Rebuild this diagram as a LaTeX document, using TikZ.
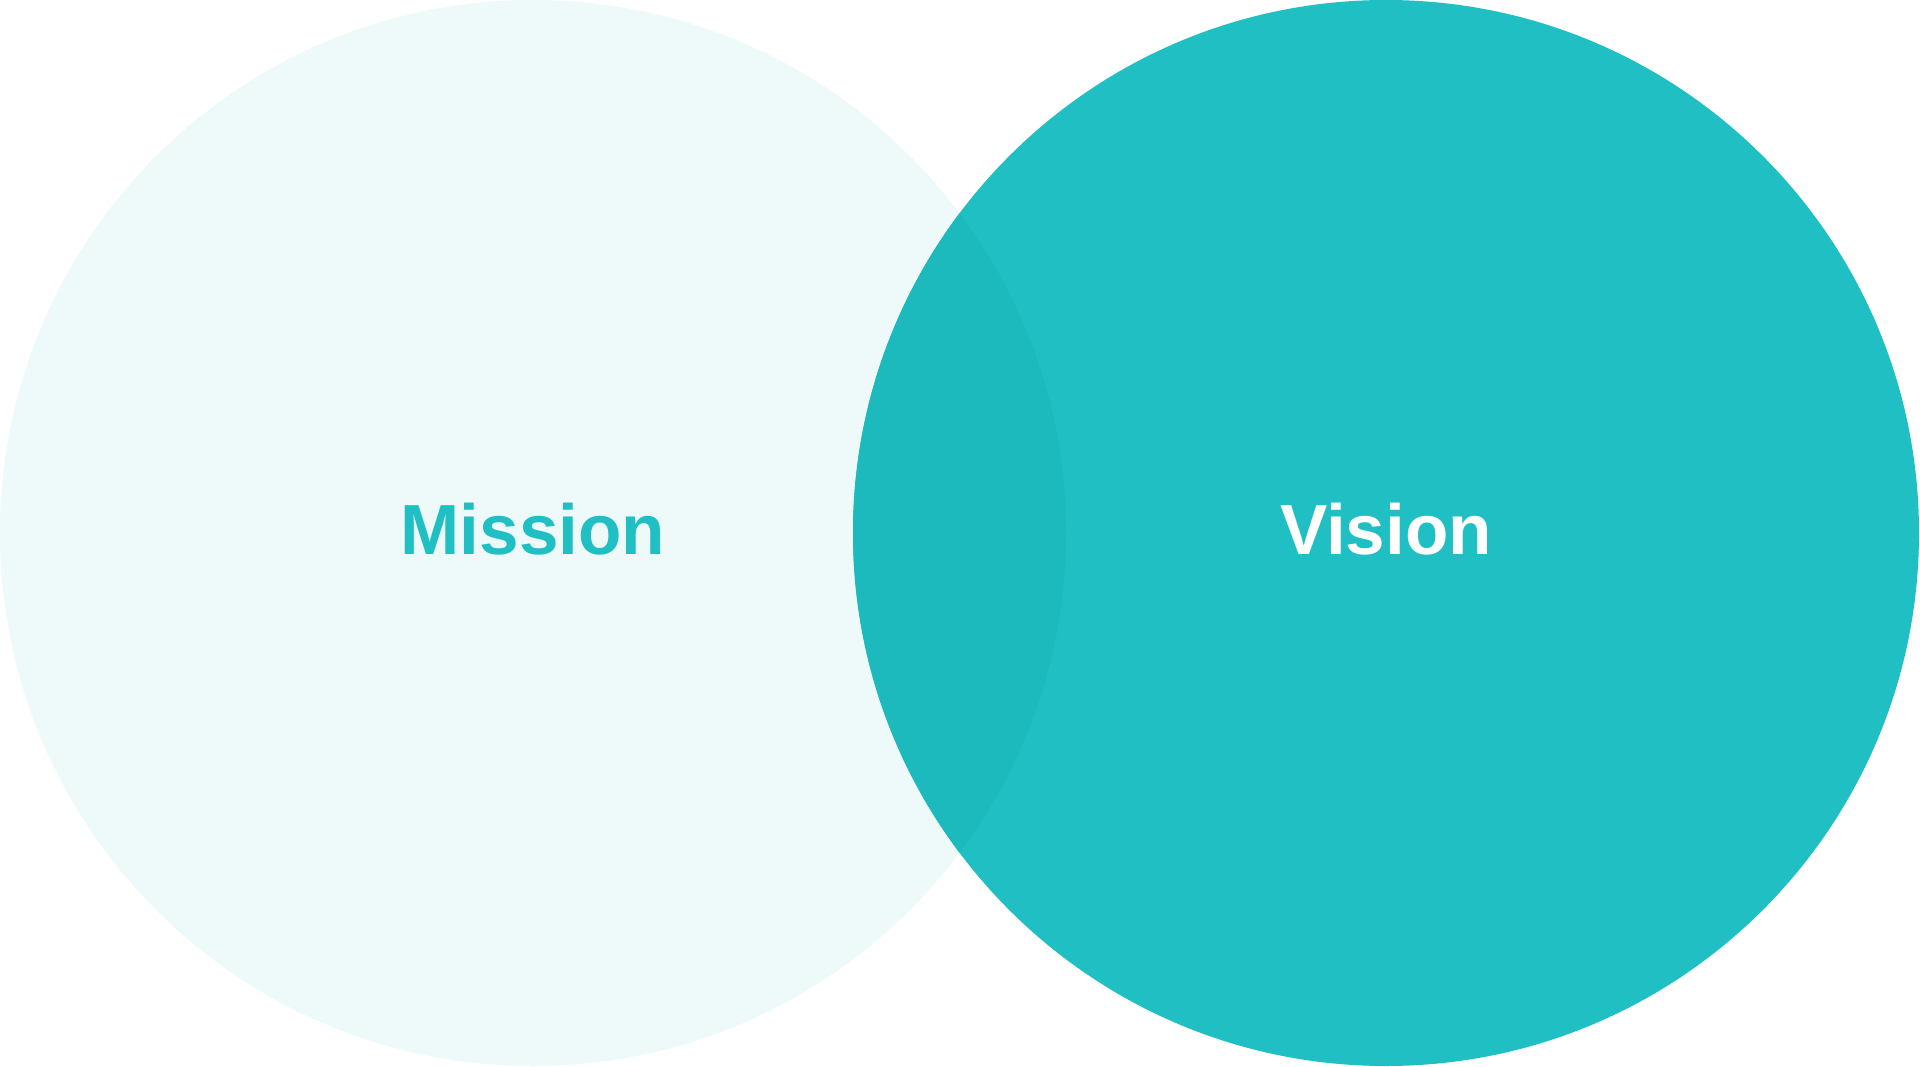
\documentclass[tikz,border=0pt]{standalone}
\usepackage{fontspec}
\setmainfont{Liberation Sans}
\usetikzlibrary{positioning}
\definecolor{kteal}{HTML}{1FBFC3}
\definecolor{kdeep}{HTML}{1CB9BD}
\definecolor{kpale}{HTML}{EEFAFA}

\tikzset{
  word/.style={font=\fontsize{71}{80}\selectfont\bfseries, inner sep=0pt}
}

\begin{document}
\begin{tikzpicture}[x=1pt, y=-1pt]
\useasboundingbox (0,0) rectangle (1920,1067);
\fill[white] (0,0) rectangle (1920,1067);
% two circles
\fill[kpale] (533,533) circle[radius=533];
\fill[kteal] (1386,533) circle[radius=533];
% overlap
\begin{scope}
  \clip (533,533) circle[radius=533];
  \fill[kdeep] (1386,533) circle[radius=533];
\end{scope}
% labels
\node[word, text=kteal] (mission) at (533,529) {Mission};
\node[word, text=white] (vision) at (1386,529) {Vision};
\end{tikzpicture}
\end{document}
